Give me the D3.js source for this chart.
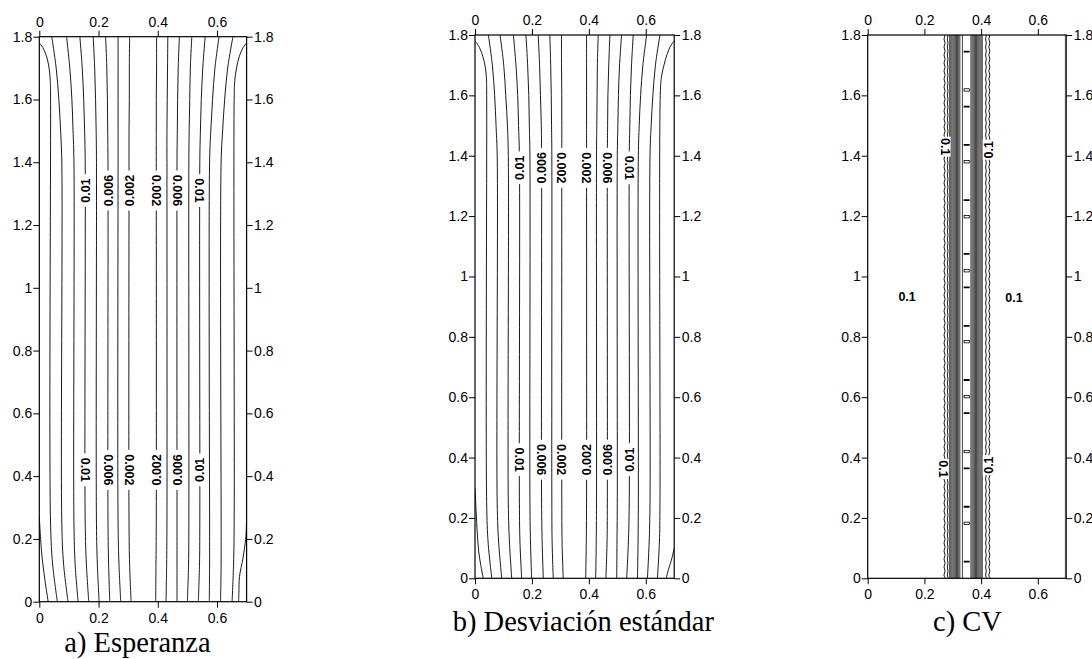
<!DOCTYPE html>
<html><head><meta charset="utf-8">
<script src="https://cdn.jsdelivr.net/npm/d3@7"></script>
<style>body{margin:0;background:#fff} svg{display:block}</style>
</head><body>
<svg id="chart" width="1092" height="659"></svg>
<script>
// ================= DATA =================
const xTicks = [0, 0.2, 0.4, 0.6];
const yTicks = [0, 0.2, 0.4, 0.6, 0.8, 1, 1.2, 1.4, 1.6, 1.8];
const xDomain = [0, 0.7];
const yDomain = [0, 1.8];
const titles = ["a) Esperanza", "b) Desviación estándar", "c) CV"];

// contour levels of the through-going lines (from centre outward)
const levels = [0.002, 0.004, 0.006, 0.008, 0.01, 0.012, 0.014];
// y stations at which the x position of each contour line was read
const yStations = [1.8, 1.7, 1.6, 1.5, 1.4, 0.25, 0.12, 0];

// ---- a) Esperanza ----
const espLeftX = [
  [0.305, 0.304, 0.304, 0.303, 0.303, 0.303, 0.305, 0.310],
  [0.266, 0.266, 0.266, 0.266, 0.266, 0.266, 0.269, 0.275],
  [0.224, 0.228, 0.230, 0.231, 0.232, 0.232, 0.234, 0.238],
  [0.182, 0.187, 0.190, 0.192, 0.193, 0.193, 0.196, 0.202],
  [0.137, 0.145, 0.150, 0.153, 0.155, 0.155, 0.159, 0.167],
  [0.092, 0.103, 0.110, 0.114, 0.117, 0.117, 0.121, 0.131],
  [0.042, 0.057, 0.066, 0.072, 0.076, 0.076, 0.082, 0.097]
];
const espRightX = [
  [0.396, 0.396, 0.395, 0.395, 0.395, 0.395, 0.394, 0.393],
  [0.434, 0.433, 0.432, 0.431, 0.431, 0.431, 0.430, 0.428],
  [0.473, 0.469, 0.467, 0.466, 0.465, 0.465, 0.465, 0.465],
  [0.515, 0.510, 0.508, 0.506, 0.505, 0.505, 0.504, 0.500],
  [0.560, 0.552, 0.547, 0.544, 0.542, 0.542, 0.541, 0.537],
  [0.607, 0.593, 0.585, 0.579, 0.575, 0.575, 0.575, 0.574],
  [0.654, 0.636, 0.626, 0.619, 0.614, 0.614, 0.614, 0.612]
];
const espEdgeTopL = [[0,1.78],[0.012,1.765],[0.025,1.736],[0.033,1.70],[0.037,1.66],[0.038,1.6],[0.038,0.25],[0.045,0.12],[0.061,0]];
const espEdgeTopR = [[0.7,1.78],[0.688,1.765],[0.675,1.736],[0.666,1.70],[0.660,1.66],[0.658,1.6],[0.658,0.25],[0.656,0.12],[0.651,0]];
const espEdgeBotL = [[0,0.27],[0.008,0.155],[0.019,0.069],[0.030,0]];
const espEdgeBotR = [[0.7,0.267],[0.697,0.2],[0.688,0.14],[0.676,0.08],[0.674,0.03],[0.673,0]];
const espLabelLevels = [0.01, 0.006, 0.002, 0.002, 0.006, 0.01];
const espLabelX = [0.155, 0.232, 0.303, 0.395, 0.465, 0.542];
const espLabelY = [1.31, 0.42];

// ---- b) Desviación estándar ----
const desLeftX = [
  [0.304, 0.304, 0.305, 0.305, 0.305, 0.305, 0.306, 0.310],
  [0.263, 0.266, 0.268, 0.269, 0.270, 0.270, 0.271, 0.275],
  [0.222, 0.227, 0.230, 0.233, 0.234, 0.234, 0.236, 0.240],
  [0.179, 0.185, 0.189, 0.191, 0.193, 0.193, 0.195, 0.199],
  [0.135, 0.144, 0.150, 0.153, 0.156, 0.156, 0.158, 0.164],
  [0.088, 0.101, 0.108, 0.114, 0.117, 0.117, 0.121, 0.129],
  [0.047, 0.061, 0.069, 0.074, 0.078, 0.078, 0.083, 0.094]
];
const desRightX = [
  [0.392, 0.392, 0.392, 0.392, 0.392, 0.392, 0.391, 0.389],
  [0.433, 0.430, 0.429, 0.428, 0.427, 0.427, 0.426, 0.424],
  [0.474, 0.470, 0.467, 0.466, 0.465, 0.465, 0.464, 0.460],
  [0.515, 0.508, 0.504, 0.502, 0.500, 0.500, 0.499, 0.498],
  [0.556, 0.550, 0.546, 0.544, 0.542, 0.542, 0.539, 0.533],
  [0.603, 0.590, 0.582, 0.577, 0.574, 0.574, 0.573, 0.571],
  [0.650, 0.634, 0.625, 0.619, 0.615, 0.615, 0.612, 0.606]
];
const desEdgeTopL = [[0,1.78],[0.012,1.765],[0.026,1.734],[0.035,1.70],[0.040,1.66],[0.041,1.6],[0.041,0.25],[0.046,0.12],[0.059,0]];
const desEdgeTopR = [[0.7,1.78],[0.688,1.765],[0.675,1.736],[0.664,1.70],[0.655,1.66],[0.651,1.6],[0.650,0.25],[0.648,0.12],[0.641,0]];
const desEdgeBotL = [[0,0.30],[0.004,0.22],[0.008,0.15],[0.013,0.09],[0.020,0.045],[0.029,0]];
const desEdgeBotR = [[0.7,0.10],[0.690,0.06],[0.680,0.03],[0.672,0]];
const desLabelLevels = [0.01, 0.006, 0.002, 0.002, 0.006, 0.01];
const desLabelX = [0.155, 0.233, 0.305, 0.391, 0.464, 0.542];
const desLabelY = [1.36, 0.393];

// ---- c) CV ----
const cvLinesLeft = [0.271, 0.282, 0.289, 0.293, 0.297, 0.301, 0.305, 0.309, 0.313, 0.317, 0.321, 0.325, 0.334];
const cvLinesRight = [0.364, 0.368, 0.372, 0.376, 0.380, 0.384, 0.388, 0.392, 0.396, 0.400, 0.404, 0.417, 0.429];
const cvCenterX = 0.349;
const cvDashY = [1.745, 1.563, 1.436, 1.253, 1.075, 0.964, 0.836, 0.657, 0.547, 0.364, 0.237, 0.055];
const cvLoopY = [1.618, 1.380, 1.198, 1.019, 0.784, 0.602, 0.420, 0.182];
const cvLabelText = "0.1";
const cvLabelX = [0.273, 0.425, 0.267, 0.425];
const cvLabelY = [1.43, 1.42, 0.362, 0.375];
const cvFlatLabelX = [0.139, 0.516];
const cvFlatLabelY = [0.935, 0.93];

// ================= LAYOUT =================
const svg = d3.select("#chart");
const panelBoxes = [
  {left: 39.3, right: 246.6, top: 36.7, bottom: 601.7, tx: 137.5, ty: 652},
  {left: 475, right: 674.2, top: 35, bottom: 578.3, tx: 583.3, ty: 631},
  {left: 867.7, right: 1066.2, top: 35, bottom: 578.3, tx: 967.5, ty: 631}
];
const tickFont = "'Liberation Sans', Arial, sans-serif";
const fmt = d => String(d);

function makeScales(b) {
  return {
    x: d3.scaleLinear().domain(xDomain).range([b.left, b.right]),
    y: d3.scaleLinear().domain(yDomain).range([b.bottom, b.top])
  };
}

function drawAxes(g, x, y) {
  const styleAxis = sel => {
    sel.select(".domain").remove();
    sel.selectAll("line").attr("stroke", "#000").attr("stroke-width", 1);
    sel.selectAll("text").attr("font-family", tickFont).attr("font-size", 14).attr("fill", "#000");
  };
  g.append("g").attr("transform", `translate(0,${y(1.8)})`)
    .call(d3.axisTop(x).tickValues(xTicks).tickFormat(fmt).tickSizeInner(6).tickSizeOuter(0).tickPadding(4)).call(styleAxis);
  g.append("g").attr("transform", `translate(0,${y(0)})`)
    .call(d3.axisBottom(x).tickValues(xTicks).tickFormat(fmt).tickSizeInner(6).tickSizeOuter(0).tickPadding(5)).call(styleAxis);
  g.append("g").attr("transform", `translate(${x(0)},0)`)
    .call(d3.axisLeft(y).tickValues(yTicks).tickFormat(fmt).tickSizeInner(6).tickSizeOuter(0).tickPadding(1)).call(styleAxis);
  g.append("g").attr("transform", `translate(${x(0.7)},0)`)
    .call(d3.axisRight(y).tickValues(yTicks).tickFormat(fmt).tickSizeInner(6).tickSizeOuter(0).tickPadding(1.5)).call(styleAxis);
  g.append("rect")
    .attr("x", x(0)).attr("y", y(1.8))
    .attr("width", x(0.7) - x(0)).attr("height", y(0) - y(1.8))
    .attr("fill", "none").attr("stroke", "#000").attr("stroke-width", 1.2);
}

function clipFor(id, x, y) {
  svg.append("defs").append("clipPath").attr("id", id)
    .append("rect").attr("x", x(0)).attr("y", y(1.8))
    .attr("width", x(0.7) - x(0)).attr("height", y(0) - y(1.8));
  return `url(#${id})`;
}

function drawContourPanel(idx, leftX, rightX, edges, labLevels, labX, labY, rotUpper, rotLower) {
  const b = panelBoxes[idx];
  const {x, y} = makeScales(b);
  const g = svg.append("g");
  const cg = g.append("g").attr("clip-path", clipFor("clip" + idx, x, y));
  const line = d3.line().x(d => x(d[0])).y(d => y(d[1])).curve(d3.curveCatmullRom.alpha(0.5));
  const lines = [];
  levels.forEach((lv, i) => {
    lines.push(yStations.map((ys, k) => [leftX[i][k], ys]));
    lines.push(yStations.map((ys, k) => [rightX[i][k], ys]));
  });
  edges.forEach(e => lines.push(e));
  cg.selectAll("path.c").data(lines).join("path")
    .attr("class", "c").attr("d", line)
    .attr("fill", "none").attr("stroke", "#000").attr("stroke-width", 0.9);

  // labels
  const labs = [];
  labY.forEach((yy, r) => labX.forEach((xx, i) =>
    labs.push({x: xx, y: yy, t: String(labLevels[i]), rot: (r === 0 ? rotUpper : rotLower)[i]})));
  const lg = g.selectAll("g.lab").data(labs).join("g")
    .attr("transform", d => `translate(${x(d.x)},${y(d.y)}) rotate(${d.rot})`);
  lg.append("rect")
    .attr("x", d => -d.t.length * 3.6 - 2).attr("y", -5.5)
    .attr("width", d => d.t.length * 7.2 + 4).attr("height", 11).attr("fill", "#fff");
  lg.append("text").text(d => d.t)
    .attr("text-anchor", "middle").attr("dy", "0.36em")
    .attr("font-family", tickFont).attr("font-weight", "bold").attr("font-size", 12.5).attr("fill", "#000");

  drawAxes(g, x, y);
  g.append("text").text(titles[idx]).attr("x", b.tx).attr("y", b.ty)
    .attr("text-anchor", "middle").attr("font-family", "'Liberation Serif', 'Times New Roman', serif")
    .attr("font-size", 28.5).attr("fill", "#000");
}

drawContourPanel(0, espLeftX, espRightX, [espEdgeTopL, espEdgeTopR, espEdgeBotL, espEdgeBotR],
  espLabelLevels, espLabelX, espLabelY, [-90, -90, -90, 90, 90, 90], [90, 90, 90, -90, -90, -90]);
drawContourPanel(1, desLeftX, desRightX, [desEdgeTopL, desEdgeTopR, desEdgeBotL, desEdgeBotR],
  desLabelLevels, desLabelX, desLabelY, [-90, -90, 90, 90, 90, 90], [90, 90, 90, -90, -90, -90]);

// ---------- panel c ----------
(function () {
  const b = panelBoxes[2];
  const {x, y} = makeScales(b);
  const g = svg.append("g");
  const cg = g.append("g").attr("clip-path", clipFor("clip2", x, y));
  const straight = xv => d3.line()([[x(xv), y(1.8)], [x(xv), y(0)]]);
  const wavy = (xv, amp) => {
    const pts = [];
    let k = 0;
    for (let py = y(1.8) - 4; py <= y(0) + 4; py += 4, k++) pts.push([x(xv) + (k % 2 ? amp : -amp), py]);
    return d3.line().curve(d3.curveBasis)(pts);
  };
  const nR = cvLinesRight.length;
  const all = cvLinesLeft.map((v, i) => ({v, amp: i === 0 ? 1.7 : i === 1 ? 1.1 : 0}))
    .concat(cvLinesRight.map((v, i) => ({v, amp: i === nR - 1 ? 1.7 : i === nR - 2 ? 1.1 : 0})));
  cg.selectAll("path.cv").data(all).join("path")
    .attr("class", "cv")
    .attr("d", d => d.amp ? wavy(d.v, d.amp) : straight(d.v))
    .attr("fill", "none")
    .attr("stroke", "#000")
    .attr("stroke-width", d => d.amp ? 0.9 : 0.75);
  // contour hugging the right edge
  cg.append("path").attr("d", straight(0.697)).attr("stroke", "#777").attr("stroke-width", 1).attr("fill", "none");
  // tiny closed contours in the centre
  cg.selectAll("line.dash").data(cvDashY).join("line").attr("class", "dash")
    .attr("x1", x(cvCenterX) - 3).attr("x2", x(cvCenterX) + 3)
    .attr("y1", d => y(d)).attr("y2", d => y(d))
    .attr("stroke", "#000").attr("stroke-width", 1.8);
  cg.selectAll("rect.loop").data(cvLoopY).join("rect").attr("class", "loop")
    .attr("x", x(cvCenterX) - 2.6).attr("width", 5.2)
    .attr("y", d => y(d) - 1.2).attr("height", 2.4)
    .attr("fill", "#fff").attr("stroke", "#000").attr("stroke-width", 0.8);

  const labs = cvLabelX.map((xx, i) => ({x: xx, y: cvLabelY[i], rot: [90, -90, 90, -90][i]}));
  const lg = g.selectAll("g.cvl").data(labs).join("g")
    .attr("transform", d => `translate(${x(d.x)},${y(d.y)}) rotate(${d.rot})`);
  lg.append("rect").attr("x", -10).attr("y", -5.5).attr("width", 20).attr("height", 11).attr("fill", "#fff");
  lg.append("text").text(cvLabelText).attr("text-anchor", "middle").attr("dy", "0.36em")
    .attr("font-family", tickFont).attr("font-weight", "bold").attr("font-size", 12.5);
  g.selectAll("text.flat").data(cvFlatLabelX).join("text").attr("class", "flat")
    .text(cvLabelText)
    .attr("x", d => x(d)).attr("y", (d, i) => y(cvFlatLabelY[i]))
    .attr("text-anchor", "middle").attr("dy", "0.36em")
    .attr("font-family", tickFont).attr("font-weight", "bold").attr("font-size", 12.5);

  drawAxes(g, x, y);
  g.append("text").text(titles[2]).attr("x", b.tx).attr("y", b.ty)
    .attr("text-anchor", "middle").attr("font-family", "'Liberation Serif', 'Times New Roman', serif")
    .attr("font-size", 28.5).attr("fill", "#000");
})();
</script>
</body></html>
